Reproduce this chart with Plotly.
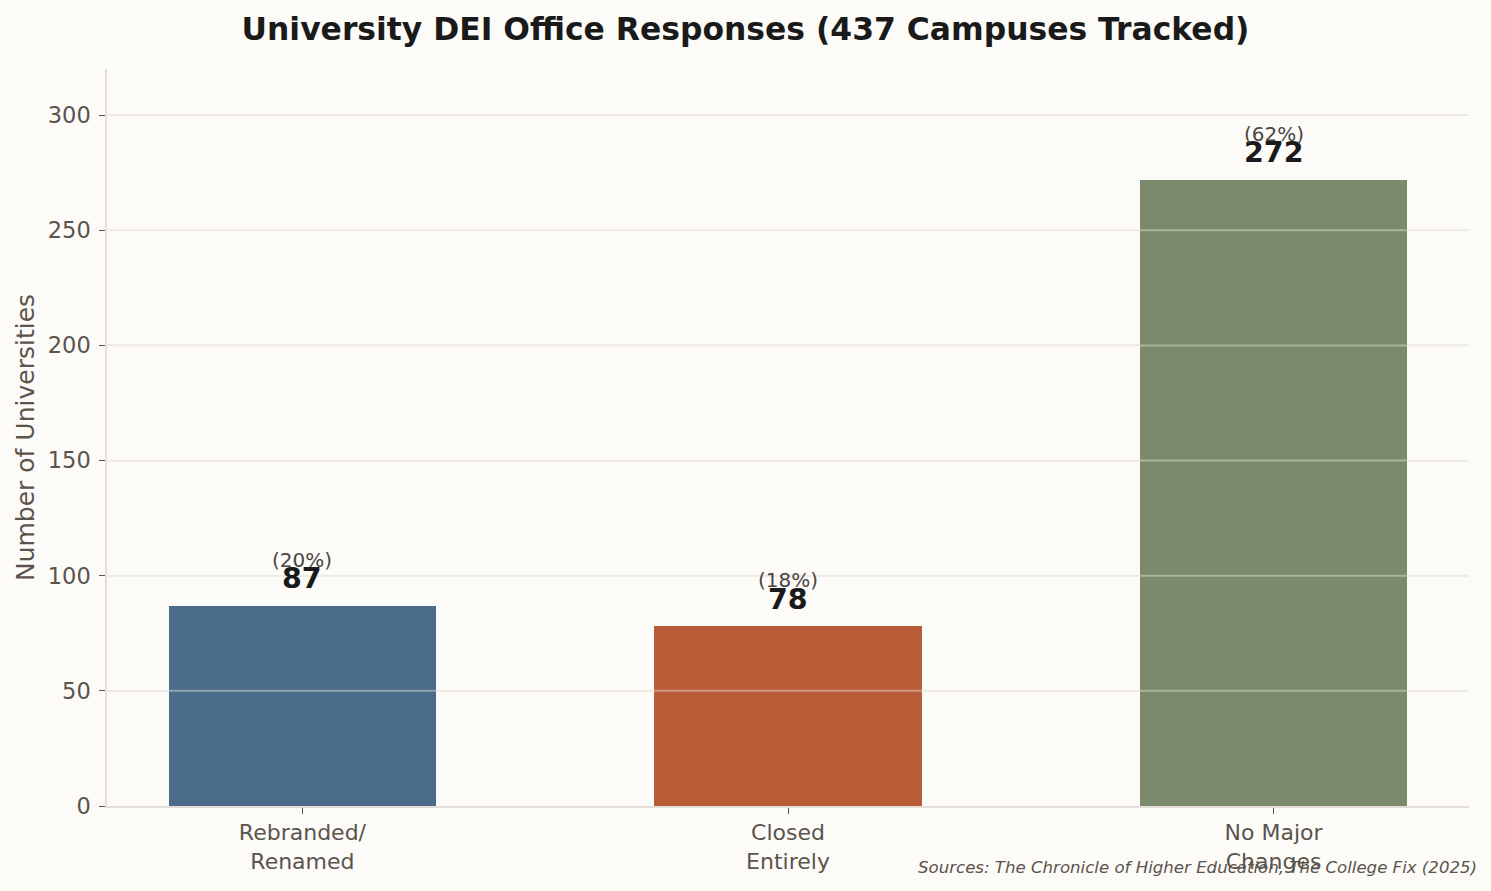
import plotly.graph_objects as go

categories = ["Rebranded/<br>Renamed", "Closed<br>Entirely", "No Major<br>Changes"]
values = [87, 78, 272]
percents = ["(20%)", "(18%)", "(62%)"]
colors = ["#4A6B8A", "#B85C38", "#7B8A6A"]
y_ticks = [0, 50, 100, 150, 200, 250, 300]

FONT = "DejaVu Sans"
TXT = "#5A544C"
BG = "#FCFBF8"

xs = list(range(len(categories)))

fig = go.Figure()
fig.add_trace(go.Bar(
    x=xs, y=values, width=0.55,
    marker=dict(color=colors, line=dict(width=0)),
    hoverinfo="skip",
))

for xi, v, p in zip(xs, values, percents):
    fig.add_annotation(x=xi, y=v, text=f"<b>{v}</b>", showarrow=False,
                       yanchor="middle", yshift=27,
                       font=dict(family=FONT, size=28.5, color="#1A1A1A"))
    fig.add_annotation(x=xi, y=v, text=p, showarrow=False,
                       yanchor="middle", yshift=46,
                       font=dict(family=FONT, size=20, color="#4A4540"))

# gridlines drawn above the bars (as in the reference)
for t in y_ticks[1:]:
    fig.add_shape(type="line", xref="paper", yref="y", x0=0, x1=1, y0=t, y1=t,
                  line=dict(color="rgba(232,228,218,0.45)", width=2), layer="above")

fig.add_annotation(xref="paper", yref="paper", x=1.0075, y=-0.083,
                   xanchor="right", yanchor="middle",
                   text="<i>Sources: The Chronicle of Higher Education, The College Fix (2025)</i>",
                   showarrow=False, font=dict(family=FONT, size=16.6, color=TXT))

fig.update_layout(
    width=1491, height=891,
    paper_bgcolor=BG, plot_bgcolor=BG,
    margin=dict(l=107, r=22, t=69, b=85),
    showlegend=False,
    bargap=0,
    title=dict(text="<b>University DEI Office Responses (437 Campuses Tracked)</b>",
               x=0.5, xanchor="center", y=0.968, yanchor="middle",
               font=dict(family=FONT, size=31.4, color="#1A1A1A")),
    font=dict(family=FONT, color=TXT),
)
fig.update_xaxes(
    range=[-0.4025, 2.4025], tickmode="array", tickvals=xs, ticktext=categories,
    showgrid=False, zeroline=False, showline=True, linecolor="#E3DFD8", linewidth=1.5,
    ticks="outside", ticklen=6, tickcolor=TXT, tickwidth=1,
    tickfont=dict(family=FONT, size=22, color=TXT),
)
fig.update_yaxes(
    range=[0, 320], tickmode="array", tickvals=y_ticks,
    showgrid=True, gridcolor="#F2F0EB", gridwidth=1.5,
    zeroline=False, showline=True, linecolor="#E3DFD8", linewidth=1.5,
    ticks="outside", ticklen=6, tickcolor=TXT, tickwidth=1,
    ticklabelstandoff=4,
    tickfont=dict(family=FONT, size=22.5, color=TXT),
    title=dict(text="Number of Universities", standoff=6,
               font=dict(family=FONT, size=25, color=TXT)),
    layer="above traces",
)

fig.write_html("out.html", config={"displayModeBar": False},
               post_script="document.body.style.margin='0';document.body.style.background='%s';" % BG)
